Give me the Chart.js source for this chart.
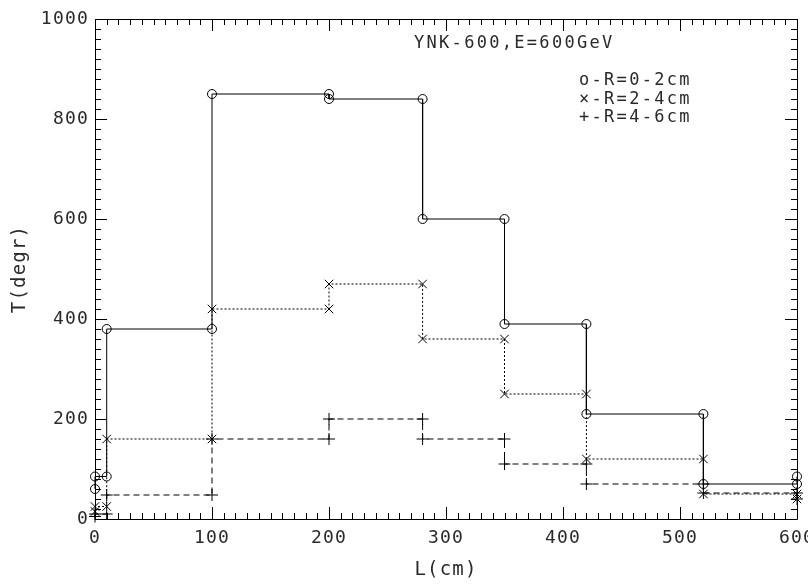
<!DOCTYPE html>
<html>
<head>
<meta charset="utf-8">
<script src="https://cdn.jsdelivr.net/npm/chart.js@4"></script>
<style>
  html, body { margin: 0; padding: 0; background: #fff; }
  #wrap { width: 808px; height: 585px; }
</style>
</head>
<body>
<div id="wrap"><canvas id="tChart" width="808" height="585"></canvas></div>
<script>
// L (cm) at each step corner, and T (degr) for the three radius bins
const lengthCm = [0, 0, 10, 10, 100, 100, 200, 200, 280, 280, 350, 350, 420, 420, 520, 520, 600, 600];
const tempR02 = [60, 85, 85, 380, 380, 850, 850, 840, 840, 600, 600, 390, 390, 210, 210, 70, 70, 85];
const tempR24 = [15, 25, 25, 160, 160, 420, 420, 470, 470, 360, 360, 250, 250, 120, 120, 50, 50, 40];
const tempR46 = [5, 10, 10, 48, 48, 160, 160, 200, 200, 160, 160, 110, 110, 70, 70, 52, 52, 40];

const xTicks = [0, 100, 200, 300, 400, 500, 600];
const yTicks = [0, 200, 400, 600, 800, 1000];
const titleText = 'YNK-600,E=600GeV';
const legendLines = ['o-R=0-2cm', '\u00d7-R=2-4cm', '+-R=4-6cm'];

const FONT = "'DejaVu Sans Mono', 'Liberation Mono', monospace";
const INK = '#2a2a2a';

function toPoints(xs, ys) {
  return xs.map((x, i) => ({ x: x, y: ys[i] }));
}

function makeSet(label, ys, style, dash, radius) {
  return {
    label: label,
    data: toPoints(lengthCm, ys),
    showLine: true,
    borderColor: '#000',
    backgroundColor: 'rgba(0,0,0,0)',
    borderWidth: 1,
    borderDash: dash,
    pointStyle: style,
    pointRadius: radius,
    pointBorderWidth: 1,
    pointBorderColor: '#000',
    pointBackgroundColor: 'rgba(0,0,0,0)',
    clip: false
  };
}

// frame with inward ticks on all four sides, plus the text block
const framePlugin = {
  id: 'frame',
  beforeDraw(chart) {
    chart.ctx.letterSpacing = '1.2px';
  },
  beforeDatasetsDraw(chart) {
    const ctx = chart.ctx;
    const a = chart.chartArea;
    const xs = chart.scales.x, ys = chart.scales.y;
    ctx.save();
    ctx.strokeStyle = '#000';
    ctx.lineWidth = 1;
    ctx.beginPath();
    ctx.rect(Math.round(a.left) + 0.5, Math.round(a.top) + 0.5,
             Math.round(a.right - a.left), Math.round(a.bottom - a.top));
    for (let v = 0; v <= 600; v += 10) {
      const px = Math.round(xs.getPixelForValue(v)) + 0.5;
      const len = v % 100 === 0 ? 12 : 6;
      ctx.moveTo(px, a.bottom); ctx.lineTo(px, a.bottom - len);
      ctx.moveTo(px, a.top); ctx.lineTo(px, a.top + len);
    }
    for (let v = 0; v <= 1000; v += 20) {
      const py = Math.round(ys.getPixelForValue(v)) + 0.5;
      const len = v % 200 === 0 ? 12 : 6;
      ctx.moveTo(a.left, py); ctx.lineTo(a.left + len, py);
      ctx.moveTo(a.right, py); ctx.lineTo(a.right - len, py);
    }
    ctx.stroke();

    ctx.fillStyle = INK;
    ctx.font = '17px ' + FONT;
    ctx.letterSpacing = '2.3px';
    ctx.textBaseline = 'middle';
    ctx.textAlign = 'left';
    ctx.fillText(titleText, a.left + 319, a.top + 25);
    legendLines.forEach((t, i) => {
      ctx.fillText(t, a.left + 484, a.top + 62 + i * 18.5);
    });
    ctx.restore();
  },
  afterDraw(chart) {
    chart.ctx.letterSpacing = '0px';
  }
};

function initChart() {
  const ctx = document.getElementById('tChart').getContext('2d');
  new Chart(ctx, {
    type: 'scatter',
    data: {
      datasets: [
        makeSet('R=0-2cm', tempR02, 'circle', [], 4.5),
        makeSet('R=2-4cm', tempR24, 'crossRot', [2, 2], 6),
        makeSet('R=4-6cm', tempR46, 'cross', [6, 4], 6)
      ]
    },
    options: {
      responsive: false,
      animation: false,
      layout: { padding: { top: 19, right: 11, left: 0, bottom: 0 } },
      plugins: {
        legend: { display: false },
        tooltip: { enabled: false }
      },
      scales: {
        x: {
          type: 'linear',
          min: 0, max: 600,
          afterBuildTicks: s => { s.ticks = xTicks.map(v => ({ value: v })); },
          afterFit: s => { s.height = 66; s.paddingLeft = 0; s.paddingRight = 0; },
          grid: { display: false, drawTicks: false },
          border: { display: false },
          ticks: { color: INK, padding: 9, maxRotation: 0, callback: v => String(v), font: { family: FONT, size: 18 } },
          title: { display: true, text: 'L(cm)', color: INK, padding: { top: 0, bottom: 4 }, font: { family: FONT, size: 19 } }
        },
        y: {
          type: 'linear',
          min: 0, max: 1000,
          afterBuildTicks: s => { s.ticks = yTicks.map(v => ({ value: v })); },
          afterFit: s => { s.width = 95; s.paddingTop = 0; s.paddingBottom = 0; },
          grid: { display: false, drawTicks: false },
          border: { display: false },
          ticks: { color: INK, padding: 6, callback: v => String(v), font: { family: FONT, size: 18 } },
          title: { display: true, text: 'T(degr)', color: INK, padding: { top: 9, bottom: 0 }, font: { family: FONT, size: 19 } }
        }
      }
    },
    plugins: [framePlugin]
  });
}

window.onload = initChart;
</script>
</body>
</html>
